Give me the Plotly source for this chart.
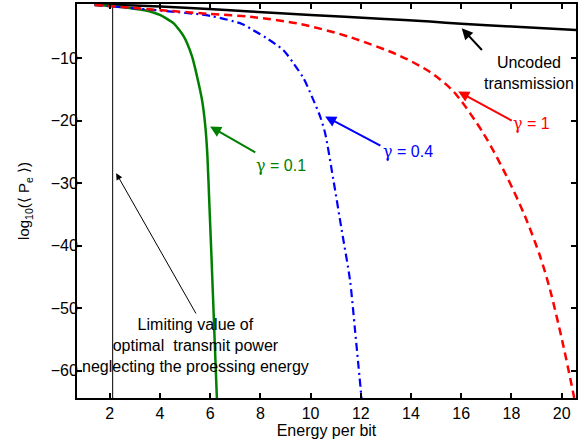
import plotly.graph_objects as go

# ---- data ----
uncoded_x = [1.4, 3.0, 5.0, 7.6, 10.0, 12.76, 14.76, 16.0, 18.0, 20.57]
uncoded_y = [-1.35, -1.55, -1.9, -2.5, -3.05, -3.65, -4.12, -4.45, -4.9, -5.47]

g01_x = [1.4, 2.0, 2.8, 3.4, 4.0, 4.55, 4.95, 5.28, 5.48, 5.68, 5.81, 5.89, 5.98, 6.06, 6.16, 6.27]
g01_y = [-1.45, -1.6, -1.95, -2.3, -3.05, -4.4, -6.5, -9.7, -12.9, -16.7, -20.9, -25.4, -34.3, -42.3, -52.9, -64.4]

g04_x = [1.4, 3.0, 4.7, 6.0, 7.27, 7.7, 8.26, 8.92, 9.32, 9.72, 10.05, 10.38, 10.58, 10.91, 11.24, 11.57, 11.77, 12.03]
g04_y = [-1.45, -2.0, -2.6, -3.2, -4.5, -5.45, -6.8, -8.7, -10.8, -13.2, -16.1, -19.3, -22.0, -29.5, -37.5, -45.5, -53.5, -64.4]

g1_x = [1.4, 3.0, 4.7, 6.0, 7.6, 9.58, 11.57, 13.56, 14.76, 15.69, 16.88, 17.81, 18.54, 19.14, 19.54, 20.07, 20.5]
g1_y = [-1.45, -1.95, -2.5, -2.9, -3.35, -4.5, -6.6, -9.6, -12.2, -15.3, -22.0, -28.9, -35.3, -41.7, -47.1, -56.1, -64.4]

limit_x = 2.12
x_range = [0.7, 20.57]
y_range = [-64.4, -1.3]
x_ticks = [2, 4, 6, 8, 10, 12, 14, 16, 18, 20]
y_ticks = [-10, -20, -30, -40, -50, -60]

FONT = "Arial, Liberation Sans, Helvetica, sans-serif"
GAMMA = '<span style="font-family:DejaVu Serif, serif">γ</span>'

fig = go.Figure()
fig.add_trace(go.Scatter(x=[limit_x, limit_x], y=y_range, mode="lines",
                         line=dict(color="black", width=1), showlegend=False))
fig.add_trace(go.Scatter(x=uncoded_x, y=uncoded_y, mode="lines",
                         line=dict(color="black", width=2.5, shape="spline", smoothing=0.6), showlegend=False))
fig.add_trace(go.Scatter(x=g01_x, y=g01_y, mode="lines",
                         line=dict(color="#008000", width=2.5, shape="spline", smoothing=0.6), showlegend=False))
fig.add_trace(go.Scatter(x=g04_x, y=g04_y, mode="lines",
                         line=dict(color="#0000ff", width=2.2, dash="8px,4px,2px,4px", shape="spline", smoothing=0.8),
                         showlegend=False))
fig.add_trace(go.Scatter(x=g1_x, y=g1_y, mode="lines",
                         line=dict(color="#ff0000", width=2.5, dash="8px,5px", shape="spline", smoothing=0.8),
                         showlegend=False))

def arrow(x, y, ax, ay, color, width):
    fig.add_annotation(x=x, y=y, ax=ax, ay=ay, xref="x", yref="y", axref="x", ayref="y",
                       text="", showarrow=True, arrowhead=2, arrowsize=1.3 if width < 1.5 else 1.1,
                       arrowwidth=width, arrowcolor=color, standoff=0, startstandoff=0)

def label(x, y, text, color, xanchor="left"):
    fig.add_annotation(x=x, y=y, xref="x", yref="y", text=text, showarrow=False,
                       xanchor=xanchor, yanchor="middle", align="center",
                       font=dict(family=FONT, size=16, color=color))

arrow(16.02, -5.2, 16.88, -8.9, "black", 2)
label(18.7, -12.4, "Uncoded<br>transmission", "black", xanchor="center")

arrow(15.88, -15.3, 18.07, -20.1, "#ff0000", 2)
label(18.0, -20.5, GAMMA + " = 1", "#ff0000")

arrow(10.58, -19.3, 12.84, -24.1, "#0000ff", 2)
label(12.8, -24.9, GAMMA + " = 0.4", "#0000ff")

arrow(6.0, -20.9, 7.86, -25.2, "#008000", 2)
label(7.75, -27.1, GAMMA + " = 0.1", "#008000")

arrow(2.26, -28.4, 5.47, -51.1, "black", 1)
label(5.4, -56.0, "Limiting value of<br>optimal  transmit power<br>neglecting the proessing energy",
      "black", xanchor="center")

axis_common = dict(showline=True, linecolor="black", linewidth=2, mirror="ticks",
                   ticks="inside", ticklen=5, tickwidth=1.5, tickcolor="black",
                   showgrid=False, zeroline=False, automargin=False,
                   tickfont=dict(family=FONT, size=16, color="black"))

fig.update_layout(
    width=586, height=443,
    margin=dict(l=77, r=10, t=4, b=45),
    plot_bgcolor="white", paper_bgcolor="white",
    xaxis=dict(range=x_range, tickvals=x_ticks,
               title=dict(text="Energy per bit", font=dict(family=FONT, size=16, color="black"), standoff=0),
               **axis_common),
    yaxis=dict(range=y_range, tickvals=y_ticks, ticklabelstandoff=-6,
               title=dict(text="log<sub>10</sub>(⟨ P<sub>e</sub> ⟩)", font=dict(family=FONT, size=15, color="black"), standoff=17),
               **axis_common),
)

fig.write_html("out.html", config={"displayModeBar": False},
               post_script="document.body.style.margin='0px';")
